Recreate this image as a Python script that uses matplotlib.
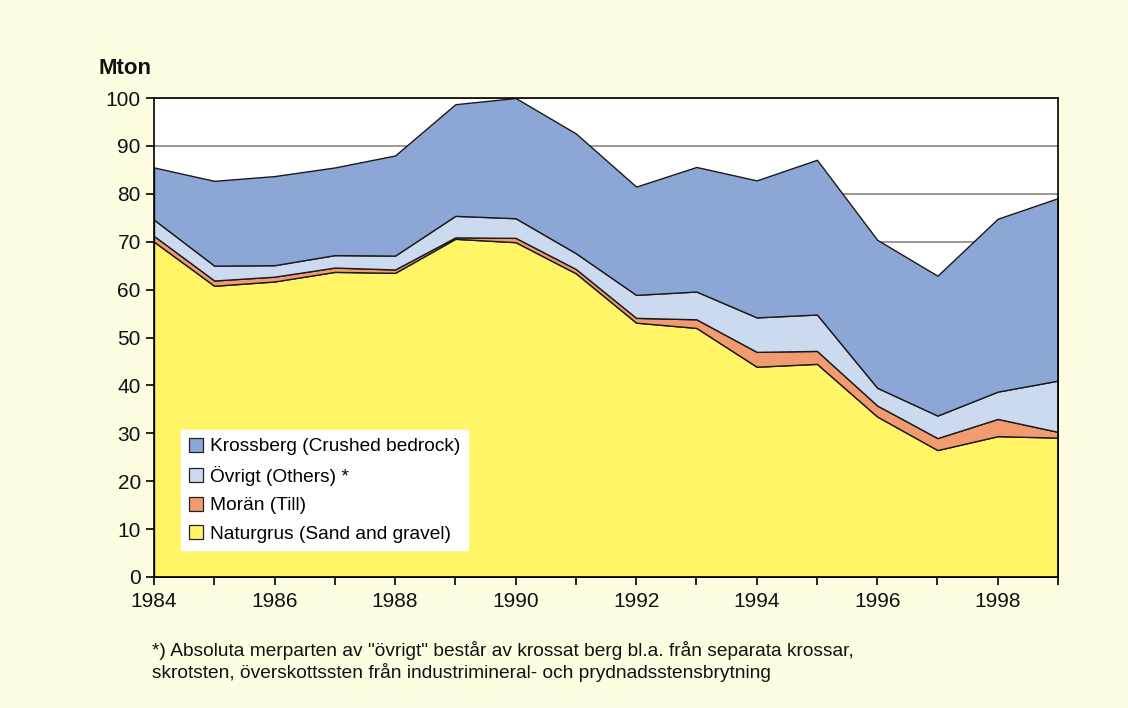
import matplotlib
matplotlib.use("Agg")
import matplotlib.pyplot as plt
from matplotlib.patches import Patch

years = list(range(1984, 2000))
naturgrus = [70.0, 60.8, 61.7, 63.7, 63.5, 70.6, 69.9, 63.4, 53.1, 52.0, 43.9, 44.5, 33.5, 26.5, 29.4, 29.1]
moran = [1.2, 1.1, 1.0, 0.9, 0.7, 0.3, 0.9, 0.9, 1.0, 1.8, 3.1, 2.7, 2.3, 2.5, 3.6, 1.2]
ovrigt = [3.4, 3.1, 2.4, 2.6, 2.9, 4.5, 4.1, 3.3, 4.8, 5.8, 7.2, 7.6, 3.7, 4.7, 5.7, 10.7]
krossberg = [10.9, 17.7, 18.6, 18.3, 20.9, 23.3, 25.1, 25.0, 22.6, 26.0, 28.6, 32.3, 30.9, 29.2, 36.1, 38.1]

labels = ["Naturgrus (Sand and gravel)", "Morän (Till)", "Övrigt (Others) *", "Krossberg (Crushed bedrock)"]
colors = ["#FFF566", "#F29A70", "#CCDAF0", "#8CA6D6"]
yticks = list(range(0, 101, 10))
xticklabels = [1984, 1986, 1988, 1990, 1992, 1994, 1996, 1998]

plt.rcParams['font.family'] = ['Liberation Sans', 'DejaVu Sans']
bg = "#FFFDE1"
fig = plt.figure(figsize=(11.28, 7.08), dpi=100, facecolor=bg)
ax = fig.add_axes([154/1128, 1-577/708, (1058-154)/1128, (577-98)/708])
ax.set_facecolor("white")

ax.stackplot(years, naturgrus, moran, ovrigt, krossberg, colors=colors,
             edgecolor="#1a1a1a", linewidth=1.0, zorder=3)

ax.set_xlim(1984, 1999)
ax.set_ylim(0, 100)
ax.set_yticks(yticks)
ax.set_xticks(years, minor=True)
ax.set_xticks(xticklabels)
ax.tick_params(axis='both', which='both', direction='out', length=6, width=1.2, color='black', labelsize=15, colors='#111111')
ax.tick_params(axis='x', which='minor', labelbottom=False)
ax.tick_params(axis='x', pad=5)
ax.grid(axis='y', color='#888888', linewidth=1.2, zorder=1)
ax.set_axisbelow(True)
for s in ax.spines.values():
    s.set_color('black')
    s.set_linewidth(1.2)
    s.set_zorder(5)

handles = [Patch(facecolor=c, edgecolor='#222222', linewidth=0.9) for c in colors]
leg = ax.legend(handles[::-1], labels[::-1], loc='lower left', bbox_to_anchor=(0.03, 0.056),
                frameon=True, fancybox=False, framealpha=1, edgecolor='white', facecolor='white',
                fontsize=13.8, handlelength=0.75, handleheight=0.75, handletextpad=0.35,
                labelspacing=0.55, borderpad=0.4, borderaxespad=0)
leg.set_zorder(6)

fig.text(98/1128, 1-68/708, "Mton", fontsize=16, fontweight='bold', va='center', ha='left', color='#111111')
fig.text(152/1128, 1-650/708, '*) Absoluta merparten av "övrigt" består av krossat berg bl.a. från separata krossar,',
         fontsize=13.8, va='center', ha='left', color='#111111')
fig.text(152/1128, 1-672/708, 'skrotsten, överskottssten från industrimineral- och prydnadsstensbrytning',
         fontsize=13.8, va='center', ha='left', color='#111111')

fig.savefig("out.png", dpi=100, facecolor=bg)
